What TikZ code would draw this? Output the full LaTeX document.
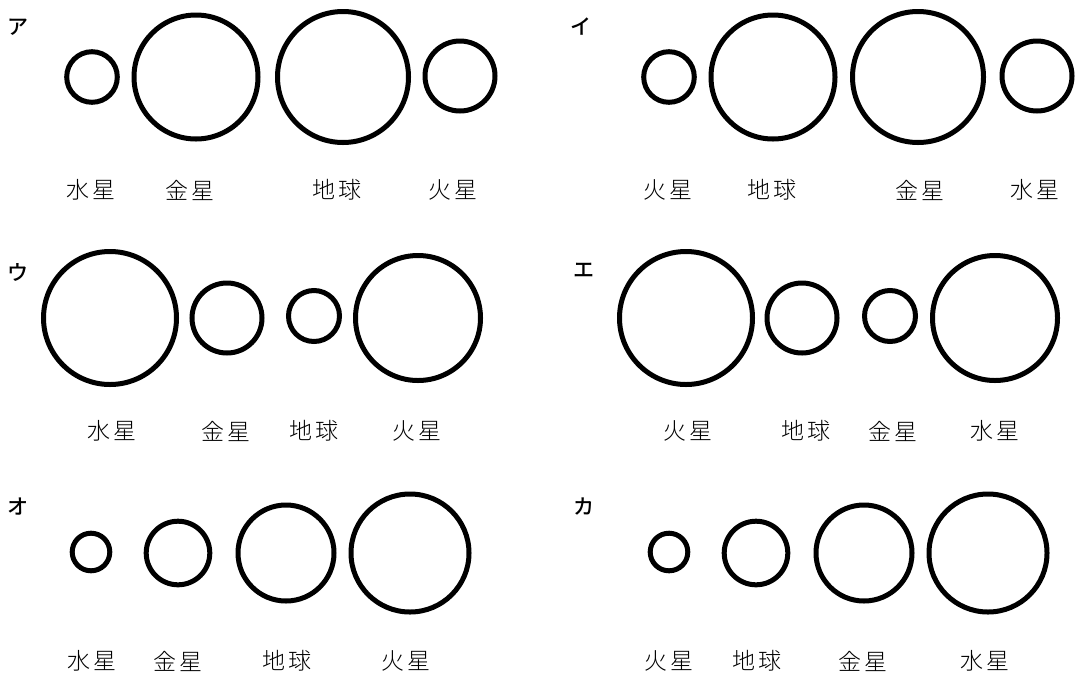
\documentclass[tikz,border=0pt]{standalone}
\usepackage{fontspec}
\newfontfamily\jpl{Noto Sans CJK JP Light}[LetterSpace=10]
\newfontfamily\jpm{Noto Sans CJK JP Medium}
\begin{document}
\begin{tikzpicture}[x=1pt,y=-1pt,
  planet/.style={draw, circle, inner sep=0pt, line width=5pt, minimum size=#1},
  plabel/.style={font=\jpl\fontsize{23}{23}\selectfont, inner sep=0pt},
  ktag/.style={font=\jpm\fontsize{21}{21}\selectfont, inner sep=0pt}]
\useasboundingbox[fill=white] (0,0) rectangle (1081,673);
% ア
\node[ktag] (ta) at (18,27) {ア};
\node[planet=50.6pt] (a1) at (92,77) {};
\node[planet=124pt] (a2) at (196,77) {};
\node[planet=131pt] (a3) at (343,77) {};
\node[planet=70pt] (a4) at (460,76) {};
\node[plabel] (la1) at (91,190) {水星};
\node[plabel] (la2) at (190,190) {金星};
\node[plabel] (la3) at (337,190) {地球};
\node[plabel] (la4) at (453,190) {火星};
% イ
\node[ktag] (tb) at (581,27) {イ};
\node[planet=50.6pt] (b1) at (669,77) {};
\node[planet=124pt] (b2) at (773,77) {};
\node[planet=131pt] (b3) at (918,77) {};
\node[planet=70pt] (b4) at (1037,76) {};
\node[plabel] (lb1) at (668,190) {火星};
\node[plabel] (lb2) at (772,190) {地球};
\node[plabel] (lb3) at (920,190) {金星};
\node[plabel] (lb4) at (1035,190) {水星};
% ウ
\node[ktag] (tc) at (18,272) {ウ};
\node[planet=133pt] (c1) at (110,318) {};
\node[planet=70pt] (c2) at (227,318) {};
\node[planet=51pt] (c3) at (314,316) {};
\node[planet=125pt] (c4) at (418,318) {};
\node[plabel] (lc1) at (112,431) {水星};
\node[plabel] (lc2) at (226,431) {金星};
\node[plabel] (lc3) at (314,431) {地球};
\node[plabel] (lc4) at (417,431) {火星};
% エ
\node[ktag] (td) at (584,270) {エ};
\node[planet=133pt] (d1) at (686,318) {};
\node[planet=70pt] (d2) at (802,318) {};
\node[planet=51pt] (d3) at (890,316) {};
\node[planet=125pt] (d4) at (995,318) {};
\node[plabel] (ld1) at (688,431) {火星};
\node[plabel] (ld2) at (806,431) {地球};
\node[plabel] (ld3) at (893,431) {金星};
\node[plabel] (ld4) at (995,431) {水星};
% オ
\node[ktag] (te) at (18,507) {オ};
\node[planet=37.6pt] (e1) at (91,552) {};
\node[planet=63.6pt] (e2) at (178,553) {};
\node[planet=96pt] (e3) at (286,553) {};
\node[planet=118pt] (e4) at (410,553) {};
\node[plabel] (le1) at (92,661) {水星};
\node[plabel] (le2) at (178,661) {金星};
\node[plabel] (le3) at (287,661) {地球};
\node[plabel] (le4) at (406,661) {火星};
% カ
\node[ktag] (tf) at (584,507) {カ};
\node[planet=37.6pt] (f1) at (669,552) {};
\node[planet=63.6pt] (f2) at (756,553) {};
\node[planet=96pt] (f3) at (864,553) {};
\node[planet=118pt] (f4) at (988,553) {};
\node[plabel] (lf1) at (669,661) {火星};
\node[plabel] (lf2) at (757,661) {地球};
\node[plabel] (lf3) at (863,661) {金星};
\node[plabel] (lf4) at (985,661) {水星};
\end{tikzpicture}
\end{document}
